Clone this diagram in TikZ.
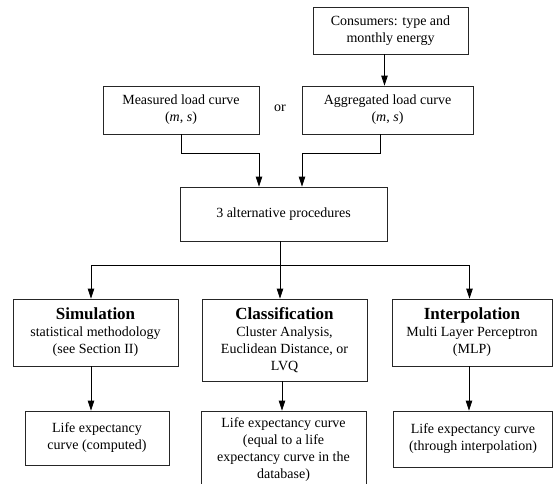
\documentclass[tikz,border=0pt]{standalone}
\usepackage{fontspec}
\setmainfont{Liberation Serif}
\usepackage{tikz}
\usetikzlibrary{arrows.meta, calc}
\tikzset{>={Triangle[length=10pt, width=6.5pt]}}
\tikzstyle{block} = [draw=black!85, line width=0.8, align=center, inner sep=0pt, font=\fontsize{14}{17}\selectfont]
\tikzstyle{wire} = [line width=0.8, black]
\newcommand{\heading}[1]{{\fontsize{17}{18}\selectfont\bfseries #1}}

\begin{document}
\begin{tikzpicture}[x=1pt, y=-1pt]
		\useasboundingbox (0,0) rectangle (553,483);
		
		% Inputs
		\node[block, minimum width=155pt, minimum height=47pt] (cons) at (390.5,30.5) {Consumers: type and\\ monthly energy};
		\node[block, minimum width=156pt, minimum height=48pt] (meas) at (181,110) {Measured load curve\\ (\textit{m}, \textit{s})};
		\node[block, minimum width=171pt, minimum height=48pt] (aggr) at (387.5,110) {Aggregated load curve\\ (\textit{m}, \textit{s})};
		\node[font=\fontsize{14}{17}\selectfont] (or) at (280,108) {or};
		
		% Procedures
		\node[block, minimum width=207pt, minimum height=54pt] (alt) at (283.5,214) {3 alternative procedures};
		\node[block, minimum width=165pt, minimum height=67pt] (sim) at (95.5,332.5) {\heading{Simulation}\\ statistical methodology\\ (see Section II)};
		\node[block, minimum width=165pt, minimum height=82pt] (cls) at (284.5,340) {\heading{Classification}\\ Cluster Analysis,\\ Euclidean Distance, or\\ LVQ};
		\node[block, minimum width=160pt, minimum height=67pt] (itp) at (472,332.5) {\heading{Interpolation}\\ Multi Layer Perceptron\\ (MLP)};
		
		% Results
		\node[block, minimum width=144pt, minimum height=54pt] (lsim) at (97,438) {Life expectancy\\ curve (computed)};
		\node[block, minimum width=165pt, minimum height=78pt] (lcls) at (283.5,450) {Life expectancy curve\\ (equal to a life\\ expectancy curve in the\\ database)};
		\node[block, minimum width=159pt, minimum height=56pt] (litp) at (473,439) {Life expectancy curve\\ (through interpolation)};
		
		% Arrows
		\draw[wire, ->] ([xshift=-6pt]cons.south) -- ([xshift=-3pt]aggr.north);
		\draw[wire, ->] (meas.south) -- ++(0,19) -| ([xshift=-24.5pt]alt.north);
		\draw[wire, ->] ([xshift=-7.5pt]aggr.south) -- ++(0,19) -| ([xshift=18.5pt]alt.north);
		\draw[wire] ([xshift=-3.5pt]alt.south) -- ++(0,24) coordinate (split);
		\draw[wire, ->] (split) -| ([xshift=-4.5pt]sim.north);
		\draw[wire, ->] (split) -- (split |- cls.north);
		\draw[wire, ->] (split) -| ([xshift=-2.5pt]itp.north);
		\draw[wire, ->] ([xshift=-4.5pt]sim.south) -- ([xshift=-6pt]lsim.north);
		\draw[wire, ->] ([xshift=-2.5pt]cls.south) -- ([xshift=-1.5pt]lcls.north);
		\draw[wire, ->] ([xshift=-3pt]itp.south) -- ([xshift=-4pt]litp.north);
\end{tikzpicture}
\end{document}
